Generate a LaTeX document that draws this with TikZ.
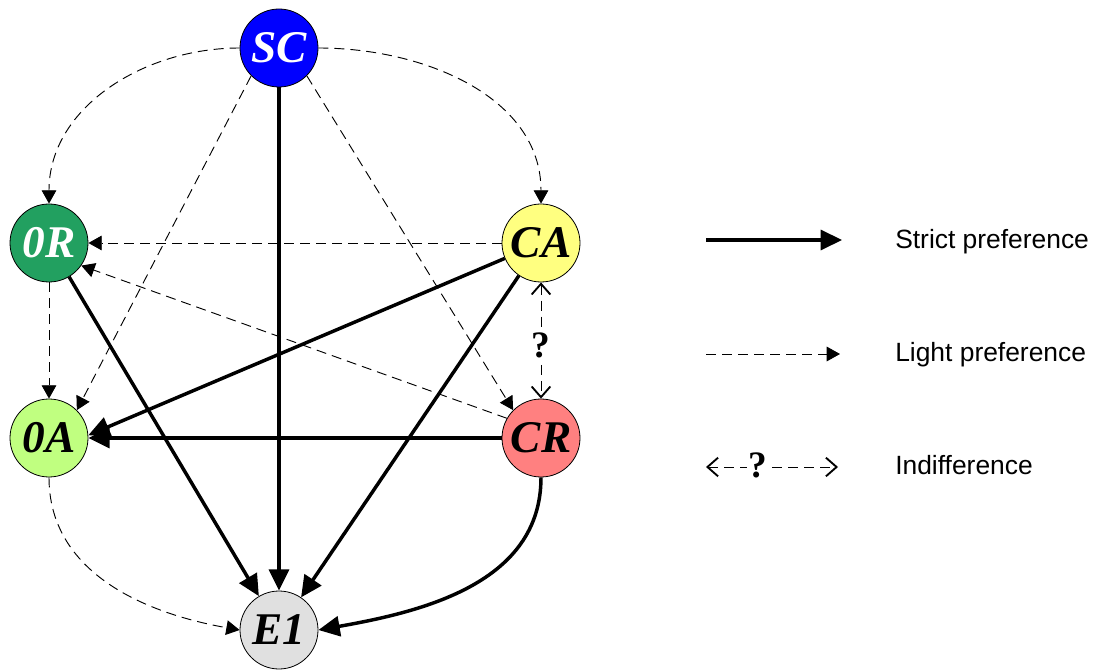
\documentclass[tikz,border=0pt]{standalone}
\usepackage{fontspec}
\setmainfont{Liberation Serif}
\newfontfamily\legendfont{Liberation Sans}
\usetikzlibrary{arrows.meta}
\definecolor{scblue}{RGB}{0,0,255}
\definecolor{orgreen}{RGB}{34,160,96}
\definecolor{cayellow}{RGB}{255,255,128}
\definecolor{oagreen}{RGB}{192,255,128}
\definecolor{crred}{RGB}{255,128,128}
\definecolor{egrey}{RGB}{224,224,224}
\begin{document}
\begin{tikzpicture}[x=0.75pt,y=0.75pt,
  state/.style={circle,draw=black,line width=0.6pt,minimum size=58.5pt,inner sep=0pt,
    font=\fontsize{34}{34}\selectfont\bfseries\itshape},
  strict/.style={line width=2.6pt,-{Triangle[length=16pt,width=15pt]}},
  light/.style={line width=0.7pt,dash pattern=on 7.5pt off 4.5pt,-{Triangle[length=10pt,width=11pt]}},
  indiff/.style={line width=0.7pt,dash pattern=on 7.5pt off 4.5pt,
    {Straight Barb[length=8pt,width=14pt,line width=1.4pt]}-{Straight Barb[length=8pt,width=14pt,line width=1.4pt]}},
  qmark/.style={font=\fontsize{28}{28}\selectfont\bfseries,inner sep=1pt},
  legtext/.style={anchor=west,inner sep=0pt,font=\legendfont\fontsize{19.8}{20}\selectfont}
]
\useasboundingbox (0,0) rectangle (1093,-670);
% nodes
\node[state,fill=scblue,text=white] (SC) at (279,-48) {SC};
\node[state,fill=orgreen,text=white] (0R) at (49,-243) {0R};
\node[state,fill=cayellow] (CA) at (541,-243) {CA};
\node[state,fill=oagreen] (0A) at (49,-438) {0A};
\node[state,fill=crred] (CR) at (541,-438) {CR};
\node[state,fill=egrey] (E1) at (279,-630) {E1};
% light preferences
\draw[light] (SC.west) to[out=180,in=90] (0R.north);
\draw[light] (SC.east) to[out=0,in=90] (CA.north);
\draw[light] (SC.225) -- (0A.45);
\draw[light] (SC.-45) -- (CR.135);
\draw[light] (CA.west) -- (0R.east);
\draw[light] (0R.south) -- (0A.north);
\draw[light] (CR.150) -- (0R.-35);
\draw[light] (0A.south) to[out=-90,in=170] (E1.west);
% indifference
\draw[indiff] (CA.south) -- node[qmark,fill=white,yshift=-4pt] {?} (CR.north);
% strict preferences
\draw[strict] (SC) -- (E1);
\draw[strict] (0R) -- (E1);
\draw[strict] (CA) -- (E1);
\draw[strict] (CA) -- (0A.4);
\draw[strict] (CR) -- (0A);
\draw[strict] (CR.south) to[out=-90,in=10] (E1.east);
% legend
\coordinate (s1) at (706,-240);
\coordinate (s2) at (842,-240);
\coordinate (l1) at (706,-354);
\coordinate (l2) at (840,-354);
\coordinate (i1) at (706,-467);
\coordinate (i2) at (838,-467);
\draw[strict] (s1) -- (s2);
\draw[light] (l1) -- (l2);
\draw[indiff] (i1) -- (i2);
\node[qmark,fill=white] (iq) at (758,-465) {?};
\node[legtext] (t1) at (895,-242) {Strict preference};
\node[legtext] (t2) at (895,-355) {Light preference};
\node[legtext] (t3) at (895,-465) {Indifference};
\end{tikzpicture}
\end{document}
